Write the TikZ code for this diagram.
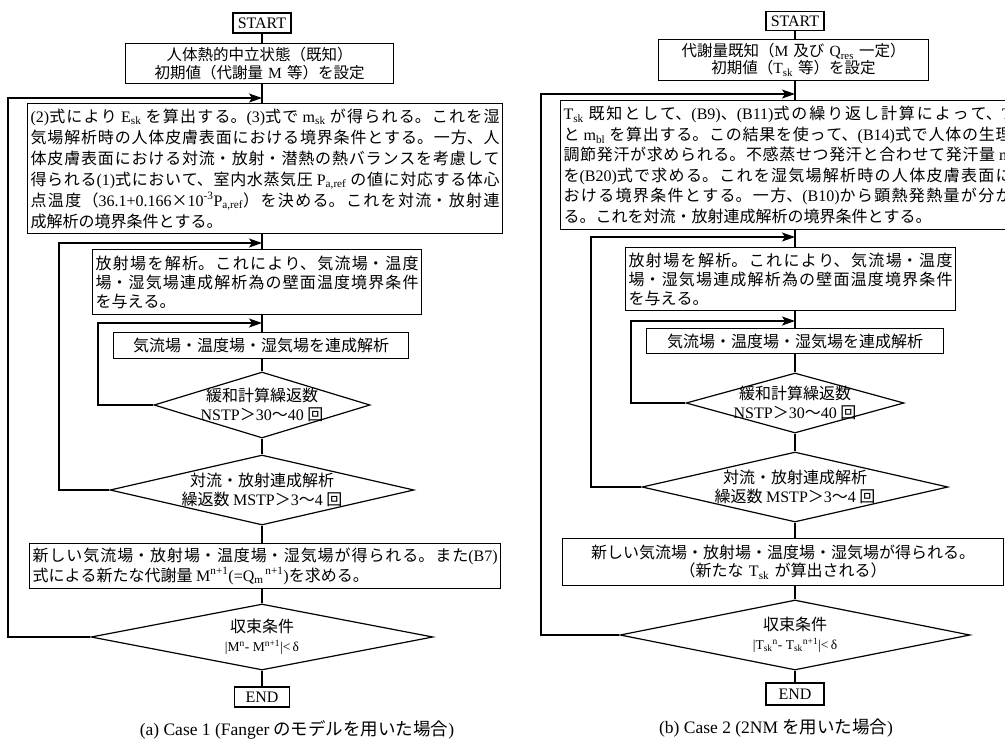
\documentclass[tikz,border=0pt]{standalone}
\usepackage{fontspec}
\setmainfont{Noto Sans CJK JP}
\newfontfamily\ltn{Liberation Serif}
\usetikzlibrary{arrows.meta,shapes.geometric}
\XeTeXlinebreaklocale "ja"
\XeTeXlinebreakskip=0pt
\setlength\parindent{0pt}
\newcommand\R[1]{{\ltn #1}}
\newcommand\fs[2]{\fontsize{#1}{#2}\selectfont}
\begin{document}
\begin{tikzpicture}[x=1pt,y=-1pt,line width=1.2pt,
  box/.style={draw, line width=1.2pt, inner xsep=3pt, inner ysep=0pt, anchor=north west, font=\fs{16}{21}},
  jbox/.style={box, align=justify, execute at begin node={\XeTeXlinebreakskip=0pt plus 3pt minus 0.2pt\relax}},
  cbox/.style={box, align=center},
  dia/.style={draw, diamond, line width=1.2pt, inner sep=0pt},
  term/.style={draw, line width=1.2pt, inner sep=0pt, font=\ltn\fs{16}{18}},
  lbl/.style={font=\fs{16}{19}, align=center, inner sep=0pt},
  captext/.style={font=\fs{17.5}{20}, inner sep=0pt},
  arr/.style={-{Stealth[length=13pt,width=9pt,inset=3pt]}},
  ln/.style={line width=1.2pt}]
\useasboundingbox (0,0) rectangle (1005,740);
\fill[white] (0,0) rectangle (1005,740);
\clip (0,0) rectangle (1005,740);

% ---------------- left panel ----------------
\def\xA{262}
\node[term, minimum width=58pt, minimum height=20pt] (startA) at (\xA,23) {START};
\node[cbox, font=\fs{15.5}{18}, text width=262pt, minimum height=40pt] (b2A) at (125,43)
 {人体熱的中立状態（既知）\\初期値（代謝量 \R{M} 等）を設定};
\node[jbox, text width=469pt, minimum height=130pt] (b3A) at (27,103)
 {\R{(2)}式により \R{E\textsubscript{sk}} を算出する。\R{(3)}式で \R{m\textsubscript{sk}} が得られる。これを湿\linebreak
 気場解析時の人体皮膚表面における境界条件とする。一方、人\linebreak
 体皮膚表面における対流・放射・潜熱の熱バランスを考慮して\linebreak
 得られる\R{(1)}式において、室内水蒸気圧 \R{P\textsubscript{a,ref}} の値に対応する体心\linebreak
 点温度（\R{36.1+0.166}×\R{10\textsuperscript{-3}P\textsubscript{a,ref}}）を決める。これを対流・放射連\linebreak
 成解析の境界条件とする。};
\node[jbox, font=\fs{16}{19}, text width=323pt, minimum height=65pt] (b4A) at (92,249)
 {放射場を解析。これにより、気流場・温度\linebreak
 場・湿気場連成解析為の壁面温度境界条件\linebreak
 を与える。};
\node[cbox, text width=289pt, minimum height=26pt] (b5A) at (113,332)
 {気流場・温度場・湿気場を連成解析};
\node[dia, minimum width=216pt, minimum height=66pt] (d1A) at (\xA,405) {};
\node[lbl] (t1A) at (d1A) {緩和計算繰返数\\\R{NSTP}＞\R{30}～\R{40} 回};
\node[dia, minimum width=304pt, minimum height=70pt] (d2A) at (\xA,490) {};
\node[lbl] (t2A) at (d2A) {対流・放射連成解析\\繰返数 \R{MSTP}＞\R{3}～\R{4} 回};
\node[jbox, font=\fs{16}{20}, text width=465pt, minimum height=45pt] (b6A) at (29,543)
 {新しい気流場・放射場・温度場・湿気場が得られる。また\R{(B7)}\linebreak
 式による新たな代謝量 \R{M\textsuperscript{n+1}(=Q\textsubscript{m}\textsuperscript{\,n+1})}を求める。};
\node[dia, minimum width=342pt, minimum height=66pt] (d3A) at (\xA,637) {};
\node[lbl] (t3A) at (d3A) {収束条件\\{\fs{13.5}{16}\R{|M\textsuperscript{n}- M\textsuperscript{n+1}|<\,δ}}};
\node[term, minimum width=55pt, minimum height=20pt] (endA) at (\xA,697) {END};
\node[captext] (capA) at (297,730) {\R{(a) Case 1 (Fanger} のモデルを用いた場合\R{)}};

\coordinate (jA1) at (\xA,98);  \coordinate (kA1) at (8,98);
\coordinate (jA2) at (\xA,243); \coordinate (kA2) at (59,243);
\coordinate (jA3) at (\xA,323); \coordinate (kA3) at (98,323);

\draw[ln] (startA.south) -- (startA.south |- b2A.north);
\draw[ln] (jA1 |- b2A.south) -- (jA1 |- b3A.north);
\draw[ln] (jA2 |- b3A.south) -- (jA2 |- b4A.north);
\draw[ln] (jA3 |- b4A.south) -- (jA3 |- b5A.north);
\draw[ln] (jA3 |- b5A.south) -- (d1A.north);
\draw[ln] (d1A.south) -- (d2A.north);
\draw[ln] (d2A.south) -- (d2A.south |- b6A.north);
\draw[ln] (d3A.north |- b6A.south) -- (d3A.north);
\draw[ln] (d3A.south) -- (endA.north);
\draw[ln,arr] (d1A.west) -| (kA3) -- (jA3);
\draw[ln,arr] (d2A.west) -| (kA2) -- (jA2);
\draw[ln,arr] (d3A.west) -| (kA1) -- (jA1);

% ---------------- right panel ----------------
\def\xB{795}
\node[term, minimum width=58pt, minimum height=19pt] (startB) at (\xB,21) {START};
\node[cbox, font=\fs{15.5}{17}, text width=264pt, minimum height=41pt] (b2B) at (658,39)
 {代謝量既知（\R{M} 及び \R{Q\textsubscript{res}} 一定）\\初期値（\R{T\textsubscript{sk}} 等）を設定};
\node[jbox, font=\fs{16}{20.5}, text width=448pt, minimum height=129pt] (b3B) at (560,100)
 {\R{T\textsubscript{sk}} 既知として、\R{(B9)}、\R{(B11)}式の繰り返し計算によって、\R{T}\linebreak
 と \R{m\textsubscript{bl}} を算出する。この結果を使って、\R{(B14)}式で人体の生理\linebreak
 調節発汗が求められる。不感蒸せつ発汗と合わせて発汗量 \R{m}\linebreak
 を\R{(B20)}式で求める。これを湿気場解析時の人体皮膚表面に\linebreak
 おける境界条件とする。一方、\R{(B10)}から顕熱発熱量が分か\linebreak
 る。これを対流・放射連成解析の境界条件とする。};
\node[jbox, font=\fs{16}{19}, text width=324pt, minimum height=63pt] (b4B) at (625,247)
 {放射場を解析。これにより、気流場・温度\linebreak
 場・湿気場連成解析為の壁面温度境界条件\linebreak
 を与える。};
\node[cbox, text width=291pt, minimum height=25pt] (b5B) at (646,328)
 {気流場・温度場・湿気場を連成解析};
\node[dia, minimum width=218pt, minimum height=60pt] (d1B) at (\xB,403) {};
\node[lbl] (t1B) at (d1B) {緩和計算繰返数\\\R{NSTP}＞\R{30}～\R{40} 回};
\node[dia, minimum width=306pt, minimum height=70pt] (d2B) at (\xB,487) {};
\node[lbl] (t2B) at (d2B) {対流・放射連成解析\\繰返数 \R{MSTP}＞\R{3}～\R{4} 回};
\node[cbox, font=\fs{16}{18.5}, text width=435pt, minimum height=47pt] (b6B) at (562,538)
 {新しい気流場・放射場・温度場・湿気場が得られる。\\（新たな \R{T\textsubscript{sk}} が算出される）};
\node[dia, minimum width=350pt, minimum height=70pt] (d3B) at (\xB,635) {};
\node[lbl] (t3B) at (d3B) {収束条件\\{\fs{13.5}{16}\R{|T\textsubscript{sk}\textsuperscript{n}- T\textsubscript{sk}\textsuperscript{n+1}|<\,δ}}};
\node[term, minimum width=58pt, minimum height=22pt] (endB) at (\xB,694) {END};
\node[captext] (capB) at (776,728) {\R{(b) Case 2 (2NM} を用いた場合\R{)}};

\coordinate (jB1) at (\xB,94);  \coordinate (kB1) at (541,94);
\coordinate (jB2) at (\xB,237); \coordinate (kB2) at (591,237);
\coordinate (jB3) at (\xB,321); \coordinate (kB3) at (631,321);

\draw[ln] (startB.south) -- (startB.south |- b2B.north);
\draw[ln] (jB1 |- b2B.south) -- (jB1 |- b3B.north);
\draw[ln] (jB2 |- b3B.south) -- (jB2 |- b4B.north);
\draw[ln] (jB3 |- b4B.south) -- (jB3 |- b5B.north);
\draw[ln] (jB3 |- b5B.south) -- (d1B.north);
\draw[ln] (d1B.south) -- (d2B.north);
\draw[ln] (d2B.south) -- (d2B.south |- b6B.north);
\draw[ln] (d3B.north |- b6B.south) -- (d3B.north);
\draw[ln] (d3B.south) -- (endB.north);
\draw[ln,arr] (d1B.west) -| (kB3) -- (jB3);
\draw[ln,arr] (d2B.west) -| (kB2) -- (jB2);
\draw[ln,arr] (d3B.west) -| (kB1) -- (jB1);
\end{tikzpicture}
\end{document}
